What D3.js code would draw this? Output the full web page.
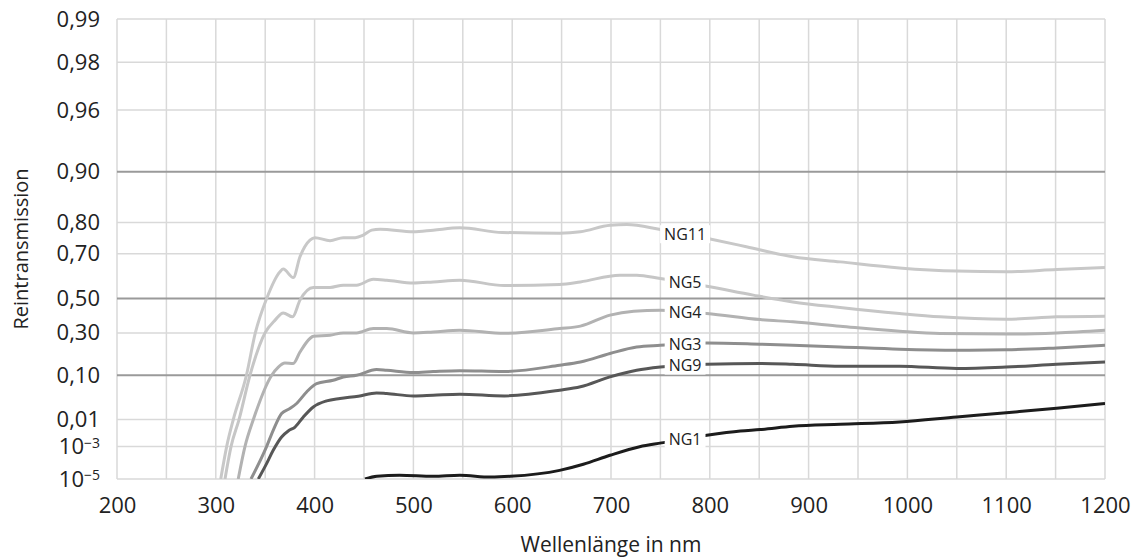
<!DOCTYPE html>
<html>
<head>
<meta charset="utf-8">
<script src="https://cdn.jsdelivr.net/npm/d3@7"></script>
<style>
  body { margin: 0; background: #fff; }
  text { font-family: "Open Sans", sans-serif; fill: #222; }
</style>
</head>
<body>
<div id="chart"></div>
<script>
// data: wavelength in nm, transmission (0..1)
const xTickValues = [200, 300, 400, 500, 600, 700, 800, 900, 1000, 1100, 1200];
const yTickValues = [0.99, 0.98, 0.96, 0.90, 0.80, 0.70, 0.50, 0.30, 0.10, 0.01, 1e-3, 1e-5];
const yMajorValues = [0.90, 0.50, 0.10];

const ng11 = [[305, 1e-5], [311, 0.001], [317.7, 0.01], [331, 0.1], [340, 0.3], [351.5, 0.5], [365, 0.624],
  [368.3, 0.636], [378.4, 0.598], [385.2, 0.688], [395.3, 0.747], [400.4, 0.755], [415.6, 0.745], [429, 0.755],
  [441, 0.755], [449.3, 0.763], [457.8, 0.778], [466.2, 0.781], [500, 0.773], [520, 0.778], [547, 0.785],
  [590, 0.771], [648, 0.769], [669, 0.773], [699, 0.792], [716, 0.794], [750, 0.780], [798, 0.752],
  [837, 0.725], [884, 0.688], [932, 0.667], [992, 0.641], [1050, 0.627], [1100, 0.624], [1151, 0.634], [1200, 0.643]];

const ng5 = [[309.3, 1e-5], [315.4, 0.001], [323.5, 0.01], [334.6, 0.1], [349.8, 0.3], [360, 0.37], [368.3, 0.412],
  [377.7, 0.389], [385.2, 0.49], [398.7, 0.552], [415.6, 0.552], [429, 0.563], [442.5, 0.563], [459.4, 0.590],
  [473, 0.586], [500, 0.573], [520, 0.578], [547, 0.586], [592, 0.561], [648, 0.566], [669, 0.578],
  [709, 0.609], [726, 0.609], [750, 0.594], [797, 0.558], [844, 0.516], [884, 0.479], [932, 0.445],
  [992, 0.409], [1033, 0.389], [1100, 0.375], [1151, 0.389], [1200, 0.393]];

const ng4 = [[322.7, 1e-5], [329.5, 0.001], [338, 0.01], [356.6, 0.1], [363.3, 0.126], [370, 0.141],
  [378.4, 0.139], [385.2, 0.189], [395.3, 0.264], [398.7, 0.278], [415.6, 0.285], [429, 0.30], [442.5, 0.30],
  [459.4, 0.323], [473, 0.323], [500, 0.30], [520, 0.305], [547, 0.314], [592, 0.297], [648, 0.323],
  [669, 0.336], [699, 0.399], [723, 0.422], [750, 0.428], [797, 0.409], [851, 0.373], [884, 0.360],
  [932, 0.336], [992, 0.309], [1033, 0.296], [1100, 0.292], [1151, 0.30], [1200, 0.314]];

const ng3 = [[335.6, 1e-5], [351.4, 0.001], [358.1, 0.004], [366.6, 0.0138], [375, 0.018], [381.8, 0.0235],
  [391.9, 0.043], [402, 0.066], [418.8, 0.078], [429, 0.092], [442.5, 0.10], [462.7, 0.1175], [473, 0.115],
  [500, 0.108], [520, 0.111], [547, 0.114], [591, 0.111], [648, 0.1325], [669, 0.145], [699, 0.182],
  [726, 0.215], [750, 0.224], [797, 0.2375], [851, 0.230], [884, 0.224], [932, 0.215], [992, 0.203],
  [1050, 0.198], [1100, 0.200], [1151, 0.21], [1200, 0.224]];

const ng9 = [[343, 1e-5], [351.4, 8.9e-5], [358.1, 5.9e-4], [366.6, 0.00228], [373.3, 0.0038], [380.2, 0.0053],
  [388.6, 0.0115], [398.7, 0.0196], [412.2, 0.027], [425.7, 0.0306], [444.2, 0.0345], [462.7, 0.041],
  [473, 0.0397], [500, 0.035], [520, 0.0363], [547, 0.0383], [592, 0.035], [648, 0.047], [669, 0.056],
  [699, 0.092], [726, 0.115], [750, 0.126], [797, 0.136], [851, 0.139], [884, 0.136], [932, 0.129],
  [992, 0.129], [1050, 0.121], [1100, 0.126], [1151, 0.136], [1200, 0.145]];

const ng1 = [[451, 1e-5], [463, 1.46e-5], [486, 1.69e-5], [520, 1.46e-5], [547, 1.69e-5], [578, 1.32e-5],
  [598, 1.46e-5], [648, 3.4e-5], [672, 8.1e-5], [699, 2.9e-4], [729, 9.8e-4], [751, 1.37e-3], [797, 2.64e-3],
  [831, 3.8e-3], [851, 4.28e-3], [884, 5.66e-3], [932, 6.72e-3], [992, 0.0082], [1050, 0.0115],
  [1100, 0.0144], [1151, 0.0182], [1200, 0.0235]];

const seriesNames = ["NG11", "NG5", "NG4", "NG3", "NG9", "NG1"];
const seriesData = [ng11, ng5, ng4, ng3, ng9, ng1];
const labelAt = 775; // nm where the curve names sit

{
  const colors = ["#c8c8c8", "#c6c6c6", "#b2b2b2", "#8e8e8e", "#575757", "#1c1c1c"];

  // set the dimensions and margins of the graph
  const margin = {top: 19, right: 29, bottom: 79, left: 117},
      width = 1134 - margin.left - margin.right,
      height = 558 - margin.top - margin.bottom;

  const svg = d3.select("#chart")
    .append("svg")
      .attr("width", width + margin.left + margin.right)
      .attr("height", height + margin.top + margin.bottom)
    .append("g")
      .attr("transform", `translate(${margin.left},${margin.top})`);

  // X scale
  const x = d3.scaleLinear().domain([200, 1200]).range([0, width]);

  // Y: nonlinear axis, piecewise linear in logit between the tick positions
  const logit = p => Math.log(p / (1 - p));
  const yStops = [0, 0.0942, 0.198, 0.332, 0.4423, 0.5105, 0.6076, 0.6824, 0.7744, 0.8708, 0.9295, 1];
  const y = d3.scaleLinear()
    .domain(yTickValues.map(logit))
    .range(yStops.map(f => f * height));
  const yT = v => y(logit(v));

  // vertical grid (every 50 nm)
  svg.append("g")
    .selectAll("line")
    .data(d3.range(200, 1201, 50))
    .join("line")
      .attr("x1", d => x(d)).attr("x2", d => x(d))
      .attr("y1", 0).attr("y2", height)
      .attr("stroke", "#d9d9d9")
      .attr("stroke-width", 1.5);

  // horizontal grid
  svg.append("g")
    .selectAll("line")
    .data(yTickValues)
    .join("line")
      .attr("x1", 0).attr("x2", width)
      .attr("y1", d => yT(d)).attr("y2", d => yT(d))
      .attr("stroke", d => yMajorValues.includes(d) ? "#9a9a9a" : "#d9d9d9")
      .attr("stroke-width", d => yMajorValues.includes(d) ? 2 : 1.5);

  // X axis
  const xAxis = svg.append("g")
    .attr("transform", `translate(0,${height})`)
    .call(d3.axisBottom(x).tickValues(xTickValues).tickSize(0).tickPadding(18).tickFormat(d3.format("d")));
  xAxis.select(".domain").remove();
  xAxis.selectAll("text").style("font-size", "22px").attr("fill", "#222");

  // Y axis
  const yAxis = svg.append("g")
    .call(d3.axisLeft(y).tickValues(yTickValues.map(logit)).tickSize(0).tickPadding(17).tickFormat(""));
  yAxis.select(".domain").remove();
  yAxis.selectAll(".tick text")
    .data(yTickValues)
    .style("font-size", "22px")
    .attr("fill", "#222")
    .each(function(d) {
      const t = d3.select(this);
      if (d < 0.005) {
        const e = Math.round(-Math.log10(d));
        t.append("tspan").text("10");
        t.append("tspan").text("\u2212" + e)
          .attr("dy", "-0.45em").style("font-size", "14px");
      } else {
        t.text(d.toFixed(2).replace(".", ","));
      }
    });

  // curves
  svg.append("clipPath").attr("id", "plotclip")
    .append("rect").attr("width", width).attr("height", height);

  const line = d3.line()
    .x(d => x(d[0]))
    .y(d => yT(d[1]))
    .curve(d3.curveMonotoneX);

  svg.append("g")
    .attr("clip-path", "url(#plotclip)")
    .selectAll("path")
    .data(seriesData)
    .join("path")
      .attr("d", line)
      .attr("fill", "none")
      .attr("stroke", (d, i) => colors[i])
      .attr("stroke-width", 3)
      .attr("stroke-linejoin", "round");

  // curve names with white box
  const labels = svg.append("g");
  seriesData.forEach(function(data, i) {
    let j = data.findIndex(d => d[0] >= labelAt);
    const a = data[j - 1], b = data[j];
    const t = (labelAt - a[0]) / (b[0] - a[0]);
    const ly = y(logit(a[1]) + t * (logit(b[1]) - logit(a[1])));
    const g = labels.append("g").attr("transform", `translate(${x(labelAt)},${ly})`);
    const txt = g.append("text")
      .attr("text-anchor", "middle")
      .attr("dy", "0.36em")
      .style("font-size", "16px")
      .attr("fill", "#1a1a1a")
      .text(seriesNames[i]);
    const bb = txt.node().getBBox();
    g.insert("rect", "text")
      .attr("x", bb.x - 4).attr("y", -9)
      .attr("width", bb.width + 8).attr("height", 18)
      .attr("fill", "#fff");
  });

  // axis titles
  svg.append("text")
    .attr("x", width / 2)
    .attr("y", height + 73)
    .attr("text-anchor", "middle")
    .style("font-size", "21px")
    .text("Wellenlänge in nm");

  svg.append("text")
    .attr("transform", `translate(${-89},${height / 2}) rotate(-90)`)
    .attr("text-anchor", "middle")
    .style("font-size", "20px")
    .text("Reintransmission");
}
</script>
</body>
</html>
